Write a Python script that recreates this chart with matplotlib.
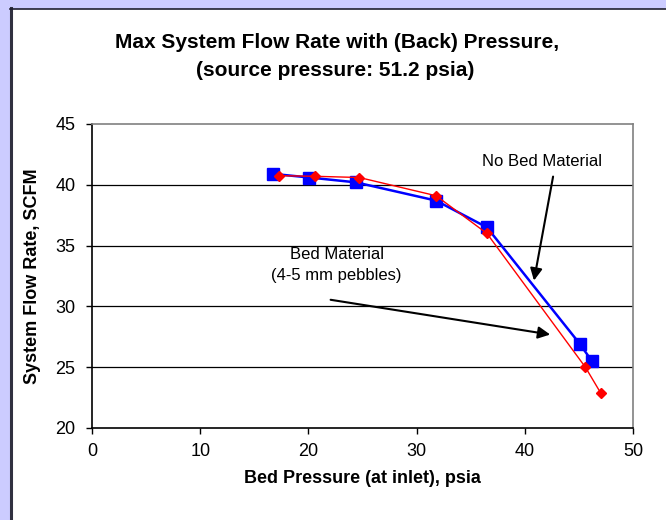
import matplotlib
matplotlib.use('Agg')
import matplotlib.pyplot as plt
from matplotlib.patches import Rectangle
from matplotlib.lines import Line2D

plt.rcParams['font.family'] = ['Liberation Sans', 'DejaVu Sans']

# Flow rate vs bed pressure, with and without bed material
no_bed_pressure = [16.7, 20.1, 24.4, 31.8, 36.5, 45.1, 46.2]
no_bed_flow = [40.9, 40.6, 40.2, 38.7, 36.5, 26.9, 25.5]

bed_pressure = [17.3, 20.6, 24.7, 31.8, 36.5, 45.6, 47.0]
bed_flow = [40.75, 40.7, 40.6, 39.1, 36.0, 25.0, 22.9]

x_ticks = [0, 10, 20, 30, 40, 50]
y_ticks = [20, 25, 30, 35, 40, 45]

fig = plt.figure(figsize=(6.66, 5.2), dpi=100)
fig.patch.set_facecolor('#CCCCFF')

# white chart area with dark border on the left and top
W, H = 666.0, 520.0
fig.patches.append(Rectangle((10 / W, 0), 1, 1 - 9 / H, transform=fig.transFigure,
                             facecolor='white', edgecolor='none', zorder=-10))
fig.lines.append(Line2D([10.8 / W, 10.8 / W], [0, 1 - 8 / H], transform=fig.transFigure,
                        color='#303040', lw=2.2, zorder=-5))
fig.lines.append(Line2D([10 / W, 1], [1 - 9 / H, 1 - 9 / H], transform=fig.transFigure,
                        color='#202030', lw=1.2, zorder=-5))

ax = fig.add_axes([92 / W, 1 - 428 / H, (633 - 92) / W, (428 - 124) / H])
ax.set_facecolor('white')

ax.set_xlim(0, 50)
ax.set_ylim(20, 45)
ax.set_xticks(x_ticks)
ax.set_yticks(y_ticks)
ax.tick_params(direction='out', length=4, width=1, labelsize=13, color='black')
ax.tick_params(axis='x', pad=7)
ax.tick_params(axis='y', pad=8)

for y in y_ticks[1:-1]:
    ax.axhline(y, color='black', lw=0.9, zorder=1)

for side in ['top', 'right']:
    ax.spines[side].set_color('#808080')
    ax.spines[side].set_linewidth(1.2)
for side in ['left', 'bottom']:
    ax.spines[side].set_color('black')
    ax.spines[side].set_linewidth(1.2)

ax.plot(no_bed_pressure, no_bed_flow, color='#0000FF', lw=1.8, marker='s',
        markersize=9, markerfacecolor='#0000FF', markeredgecolor='#0000FF', zorder=3)
ax.plot(bed_pressure, bed_flow, color='#FF0000', lw=1.0, marker='D',
        markersize=5, markerfacecolor='#FF0000', markeredgecolor='#FF0000', zorder=4)

ax.text(41.55, 41.95, 'No Bed Material', ha='center', va='center', fontsize=12)
ax.annotate('', xy=(40.8, 31.9), xytext=(42.66, 40.9),
            arrowprops=dict(arrowstyle='-|>', color='black', lw=1.5,
                            mutation_scale=18), zorder=5)

ax.text(22.6, 33.4, 'Bed Material\n(4-5 mm pebbles)', ha='center', va='center',
        fontsize=12, linespacing=1.45)
ax.annotate('', xy=(42.6, 27.65), xytext=(21.8, 30.58),
            arrowprops=dict(arrowstyle='-|>', color='black', lw=1.5,
                            mutation_scale=18), zorder=5)

ax.set_xlabel('Bed Pressure (at inlet), psia', fontsize=13, fontweight='bold', labelpad=7)
ax.set_ylabel('System Flow Rate, SCFM', fontsize=13, fontweight='bold', labelpad=10)

fig.text(337 / W, 1 - 43 / H, 'Max System Flow Rate with (Back) Pressure,',
         ha='center', va='center', fontsize=15, fontweight='bold')
fig.text(335 / W, 1 - 71 / H, '(source pressure: 51.2 psia)',
         ha='center', va='center', fontsize=15, fontweight='bold')

fig.savefig('out.png', dpi=100, facecolor=fig.get_facecolor())
